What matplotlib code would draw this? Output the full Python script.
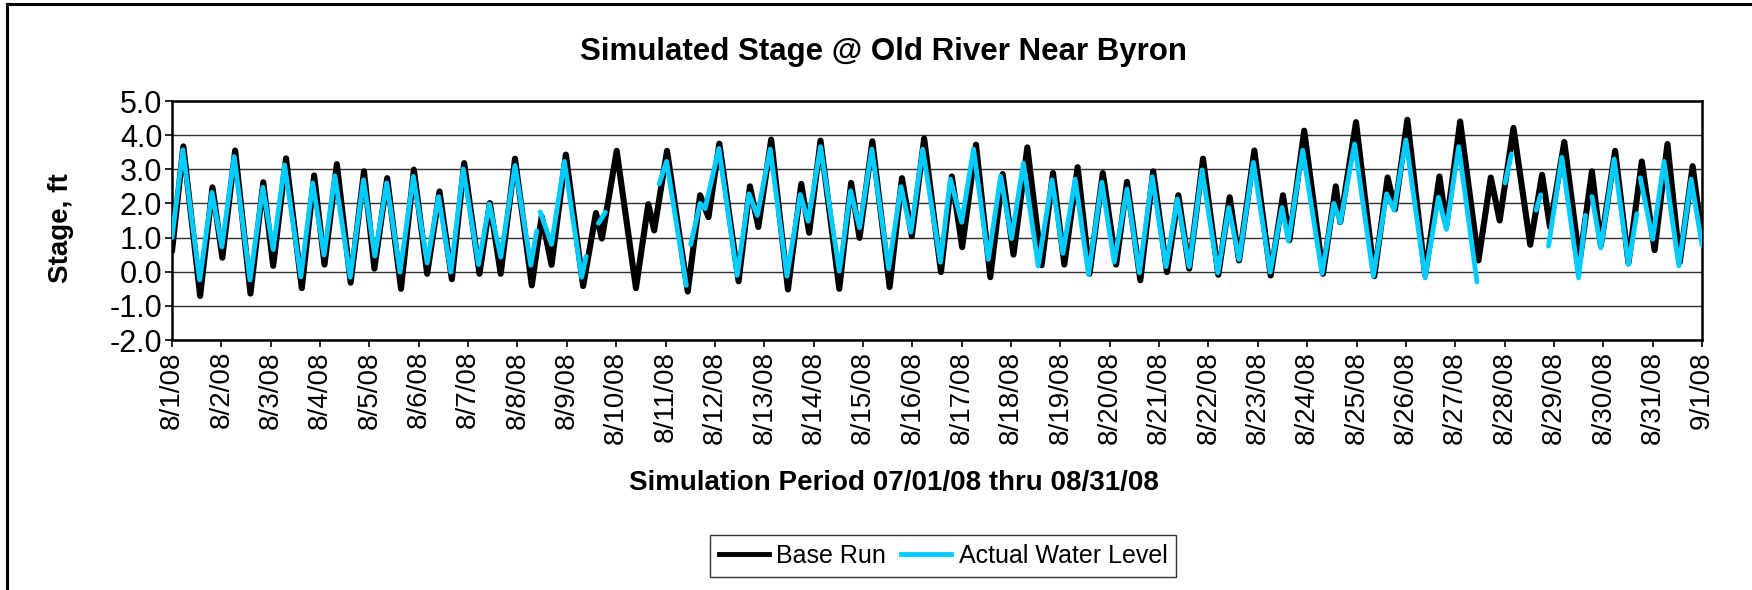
import numpy as np
import matplotlib
matplotlib.use('Agg')
import matplotlib.pyplot as plt
from matplotlib.lines import Line2D

plt.rcParams['font.family'] = ['Liberation Sans', 'DejaVu Sans']

# ── Stage turning points (days after 8/1/08, ft) ──────────────
base_day = [0.00, 0.23, 0.57, 0.82, 1.02, 1.28, 1.59, 1.85, 2.05, 2.31,
            2.63, 2.88, 3.09, 3.34, 3.62, 3.89, 4.10, 4.36, 4.64, 4.90,
            5.17, 5.42, 5.67, 5.92, 6.23, 6.44, 6.66, 6.95, 7.29, 7.49,
            7.69, 7.98, 8.33, 8.59, 8.71, 9.01, 9.40, 9.65, 9.77, 10.03,
            10.45, 10.70, 10.87, 11.09, 11.48, 11.71, 11.88, 12.14, 12.48, 12.75,
            12.91, 13.14, 13.52, 13.76, 13.93, 14.19, 14.54, 14.79, 14.99,
            15.24, 15.58, 15.80, 16.01, 16.29, 16.58, 16.83, 17.05, 17.33, 17.62,
            17.85, 18.08, 18.35, 18.59, 18.86, 19.13, 19.35, 19.62, 19.88, 20.16,
            20.39, 20.61, 20.89, 21.20, 21.43, 21.62, 21.93, 22.26, 22.51, 22.64,
            22.94, 23.32, 23.58, 23.67, 23.99, 24.36, 24.63, 24.78, 25.03,
            25.39, 25.68, 25.82, 26.10, 26.47, 26.72, 26.90, 27.18, 27.52, 27.76,
            27.92, 28.21, 28.52, 28.77, 28.95, 29.24, 29.51, 29.78, 30.04, 30.30,
            30.55, 30.81, 31.00]
base_ft = [0.60, 3.67, -0.71, 2.47, 0.41, 3.55, -0.64, 2.62, 0.17, 3.32,
           -0.48, 2.82, 0.21, 3.15, -0.32, 2.94, 0.09, 2.74, -0.50, 2.99,
           -0.06, 2.35, -0.22, 3.18, -0.06, 2.01, -0.06, 3.31, -0.40, 1.62,
           0.20, 3.43, -0.42, 1.72, 0.97, 3.54, -0.48, 1.98, 1.21, 3.54,
           -0.58, 2.24, 1.60, 3.75, -0.28, 2.50, 1.31, 3.87, -0.52, 2.57,
           1.14, 3.84, -0.50, 2.60, 0.99, 3.82, -0.45, 2.74, 1.04,
           3.90, -0.01, 2.79, 0.72, 3.72, -0.16, 2.86, 0.50, 3.64, 0.19,
           2.89, 0.21, 3.06, -0.06, 2.89, 0.21, 2.63, -0.25, 2.94, -0.01,
           2.24, 0.09, 3.31, -0.09, 2.18, 0.33, 3.55, -0.11, 2.24, 0.92,
           4.13, -0.06, 2.50, 1.45, 4.38, -0.13, 2.76, 1.83, 4.45,
           -0.09, 2.79, 1.36, 4.40, 0.33, 2.76, 1.50, 4.21, 0.79, 2.84,
           1.31, 3.80, 0.30, 2.94, 0.77, 3.54, 0.26, 3.23, 0.63, 3.74,
           0.28, 3.09, 1.00]

# observed record has gaps -> nan breaks the line
nan = np.nan
obs_day = [0.00, 0.22, 0.56, 0.81, 1.01, 1.26, 1.58, 1.84, 2.05, 2.28,
           2.61, 2.85, 3.08, 3.30, 3.61, 3.88, 4.11, 4.35, 4.62, 4.89,
           5.17, 5.40, 5.65, 5.90, 6.21, 6.43, 6.66, 6.95, 7.27, 7.39,
           nan, 7.46, 7.69, 7.95, 8.30, 8.39, nan, 8.64, 8.78, nan,
           9.87, 10.02, 10.42, nan, 10.51, 10.70, 10.80, 11.08, 11.45, 11.69,
           11.86, 12.12, 12.46, 12.73, 12.89, 13.14, 13.52, 13.75, 13.93, 14.18,
           14.52, 14.77, 14.97, 15.21, 15.57, 15.77, 16.00, 16.24, 16.54, 16.79,
           17.01, 17.25, 17.55, 17.83, 18.05, 18.30, 18.57, 18.84, 19.09, 19.35,
           19.60, 19.86, 20.14, 20.37, 20.61, 20.87, 21.19, 21.41, 21.62, 21.91,
           22.25, 22.49, 22.62, 22.91, 23.30, 23.54, 23.67, 23.96, 24.34, 24.61,
           24.76, 25.00, 25.39, 25.66, 25.82, 26.07, 26.44, nan, 27.01, 27.14,
           nan, 27.64, 27.73, nan, 27.89, 28.16, 28.50, 28.64, nan, 28.77,
           28.95, 29.22, 29.51, 29.68, nan, 29.75, 30.00, 30.23, 30.53, 30.78,
           31.00]
obs_ft = [1.00, 3.57, -0.24, 2.32, 0.73, 3.37, -0.24, 2.47, 0.65, 3.13,
          -0.15, 2.60, 0.49, 2.81, -0.16, 2.69, 0.46, 2.60, -0.01, 2.79,
          0.26, 2.20, -0.01, 3.01, 0.21, 1.98, 0.43, 3.11, 0.19, 1.20,
          nan, 1.75, 0.80, 3.23, -0.16, 0.45, nan, 1.42, 1.74, nan,
          2.57, 3.23, -0.40, nan, 0.80, 2.00, 1.85, 3.61, -0.11, 2.28,
          1.65, 3.59, -0.13, 2.26, 1.48, 3.66, 0.02, 2.37, 1.29, 3.59,
          0.09, 2.49, 1.16, 3.59, 0.28, 2.71, 1.45, 3.59, 0.36, 2.79,
          0.97, 3.18, 0.17, 2.69, 0.54, 2.71, -0.08, 2.62, 0.28, 2.42,
          -0.03, 2.78, 0.15, 2.13, 0.15, 2.98, -0.03, 1.88, 0.36, 3.20,
          -0.01, 1.88, 0.90, 3.56, -0.05, 2.00, 1.44, 3.74, -0.13, 2.28,
          1.81, 3.86, -0.18, 2.18, 1.24, 3.66, -0.30, nan, 2.60, 3.45,
          nan, 1.80, 2.25, nan, 0.75, 3.35, -0.18, 1.65, nan, 2.20,
          0.70, 3.30, 0.21, 1.70, nan, 2.75, 0.95, 3.23, 0.17, 2.71,
          0.78]

tick_days = list(range(32))
tick_labels = [f'8/{d}/08' for d in range(1, 32)] + ['9/1/08']
y_ticks = [-2, -1, 0, 1, 2, 3, 4, 5]

W, H = 1752, 590
fig = plt.figure(figsize=(W / 100, H / 100), dpi=100)
ax = fig.add_axes([172 / W, 1 - 340 / H, 1530 / W, 239 / H])

ax.plot(base_day, base_ft, color='black', lw=4.4, solid_joinstyle='round',
        solid_capstyle='round', zorder=3)
ax.plot(obs_day, obs_ft, color='#00CCFF', lw=3.5, solid_joinstyle='round',
        solid_capstyle='round', zorder=4)

ax.set_xlim(0, 31)
ax.set_ylim(-2, 5)
ax.set_yticks(y_ticks)
ax.set_yticklabels([f'{v:.1f}' for v in y_ticks], fontsize=22)
ax.set_xticks(tick_days)
ax.set_xticklabels(tick_labels, rotation=90, fontsize=20, va='top', ha='center')
ax.tick_params(axis='both', direction='out', length=5, width=1.2, color='black')
ax.tick_params(axis='x', pad=3)
ax.tick_params(axis='y', pad=2)
ax.yaxis.grid(True, color='#303030', lw=1.0)
ax.set_axisbelow(True)
for sp in ax.spines.values():
    sp.set_linewidth(1.8)
    sp.set_color('black')

fig.text(883 / W, 1 - 52 / H, 'Simulated Stage @ Old River Near Byron',
         ha='center', va='center', fontsize=22.5, fontweight='bold')
fig.text(894 / W, 1 - 483 / H, 'Simulation Period 07/01/08 thru 08/31/08',
         ha='center', va='center', fontsize=20, fontweight='bold')
fig.text(61 / W, 1 - 228 / H, 'Stage, ft', rotation=90,
         ha='center', va='center', fontsize=20, fontweight='bold')

handles = [Line2D([], [], color='black', lw=3.5),
           Line2D([], [], color='#00CCFF', lw=3.5)]
leg = fig.legend(handles, ['Base Run', 'Actual Water Level'], loc='center',
                 bbox_to_anchor=(943 / W, 1 - 556 / H), ncol=2, fontsize=18,
                 frameon=True, fancybox=False, edgecolor='black',
                 handlelength=2.0, handletextpad=0.3, columnspacing=0.6,
                 borderpad=0.35)
leg.get_frame().set_linewidth(1.0)

# chart area border (top and left edges)
fig.add_artist(Line2D([7 / W, 1], [1 - 3.5 / H, 1 - 3.5 / H],
                      transform=fig.transFigure, color='black', lw=2.2))
fig.add_artist(Line2D([7 / W, 7 / W], [0, 1 - 3.5 / H],
                      transform=fig.transFigure, color='black', lw=2.2))

fig.savefig('out.png', dpi=100)
plt.close(fig)
